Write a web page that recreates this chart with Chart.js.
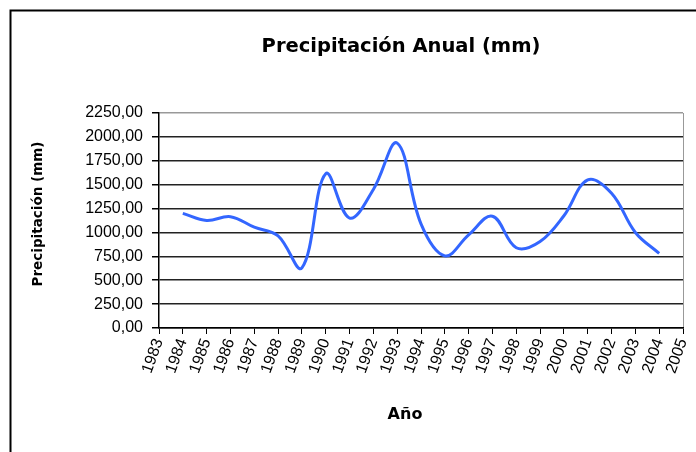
<!DOCTYPE html>
<html>
<head>
<meta charset="utf-8">
<script src="https://cdn.jsdelivr.net/npm/chart.js@4.4.1/dist/chart.umd.min.js"></script>
<style>
  body { margin: 0; background: #fff; }
  #grafico { display: block; }
</style>
</head>
<body>
<canvas id="grafico" width="696" height="452"></canvas>
<script>
// Datos
const anos = [1984, 1985, 1986, 1987, 1988, 1989, 1990, 1991, 1992, 1993, 1994,
  1995, 1996, 1997, 1998, 1999, 2000, 2001, 2002, 2003, 2004];
const precipitacion = [1200, 1125, 1165, 1055, 965, 630, 1615, 1150, 1450, 1935, 1090,
  755, 975, 1170, 840, 905, 1175, 1550, 1410, 1000, 780];

// Ejes
const anoMin = 1983;
const anoMax = 2005;
const precMin = 0;
const precMax = 2250;
const precPaso = 250;

// Textos
const titulo = "Precipitación Anual (mm)";
const tituloY = "Precipitación (mm)";
const tituloX = "Año";

// puntos para el gráfico de dispersión
const puntos = anos.map((a, i) => ({ x: a, y: precipitacion[i] }));

// plugin para el marco exterior y los títulos
const marcoYTitulos = {
  id: "marcoYTitulos",
  beforeDraw(chart) {
    const ctx = chart.ctx;
    ctx.save();
    ctx.fillStyle = "#fff";
    ctx.fillRect(0, 0, chart.width, chart.height);
    ctx.strokeStyle = "#000";
    ctx.lineWidth = 2;
    ctx.strokeRect(10.5, 10.5, 1000, 1000);
    ctx.restore();
  },
  afterDraw(chart) {
    const ctx = chart.ctx;
    ctx.save();
    ctx.fillStyle = "#000";
    ctx.textAlign = "center";
    ctx.textBaseline = "middle";

    ctx.font = "bold 19.5px 'DejaVu Sans'";
    ctx.fillText(titulo, 401, 47);

    ctx.font = "bold 16px 'DejaVu Sans'";
    ctx.fillText(tituloX, 405, 415);

    ctx.translate(38, 214);
    ctx.rotate(-Math.PI / 2);
    ctx.font = "bold 13.5px 'DejaVu Sans'";
    ctx.fillText(tituloY, 0, 0);
    ctx.restore();
  }
};

new Chart(document.getElementById("grafico"), {
  type: "scatter",
  data: {
    datasets: [{
      data: puntos,
      showLine: true,
      borderColor: "#3366ff",
      borderWidth: 3,
      pointRadius: 0,
      tension: 0.38,
      fill: false
    }]
  },
  options: {
    responsive: false,
    animation: false,
    layout: { padding: { top: 113, right: 13, left: 0, bottom: 0 } },
    plugins: {
      legend: { display: false },
      tooltip: { enabled: false }
    },
    scales: {
      x: {
        type: "linear",
        min: anoMin,
        max: anoMax,
        afterFit: (escala) => {
          escala.height = 124;
          // sin relleno extra por las etiquetas giradas
          escala.paddingLeft = 0;
          escala.paddingRight = 0;
        },
        ticks: {
          stepSize: 1,
          autoSkip: false,
          minRotation: 70,
          maxRotation: 70,
          color: "#000",
          padding: 2,
          font: { family: "'Liberation Sans'", size: 16 },
          callback: (v) => String(v)
        },
        grid: {
          color: (c) => (c.tick && c.tick.value === anoMax ? "#999" : "rgba(0,0,0,0)"),
          tickColor: "#000",
          tickLength: 6
        },
        border: { color: "#000", width: 1.5 }
      },
      y: {
        min: precMin,
        max: precMax,
        afterFit: (escala) => { escala.width = 159; },
        ticks: {
          stepSize: precPaso,
          color: "#000",
          padding: 9,
          font: { family: "'Liberation Sans'", size: 16 },
          callback: (v) => v.toFixed(2).replace(".", ",")
        },
        grid: {
          color: (c) => (c.tick && c.tick.value === precMax ? "#999" : "#222"),
          lineWidth: 1.5,
          tickColor: "#000",
          tickLength: 7
        },
        border: { color: "#000", width: 1.5 }
      }
    }
  },
  plugins: [marcoYTitulos]
});
</script>
</body>
</html>
